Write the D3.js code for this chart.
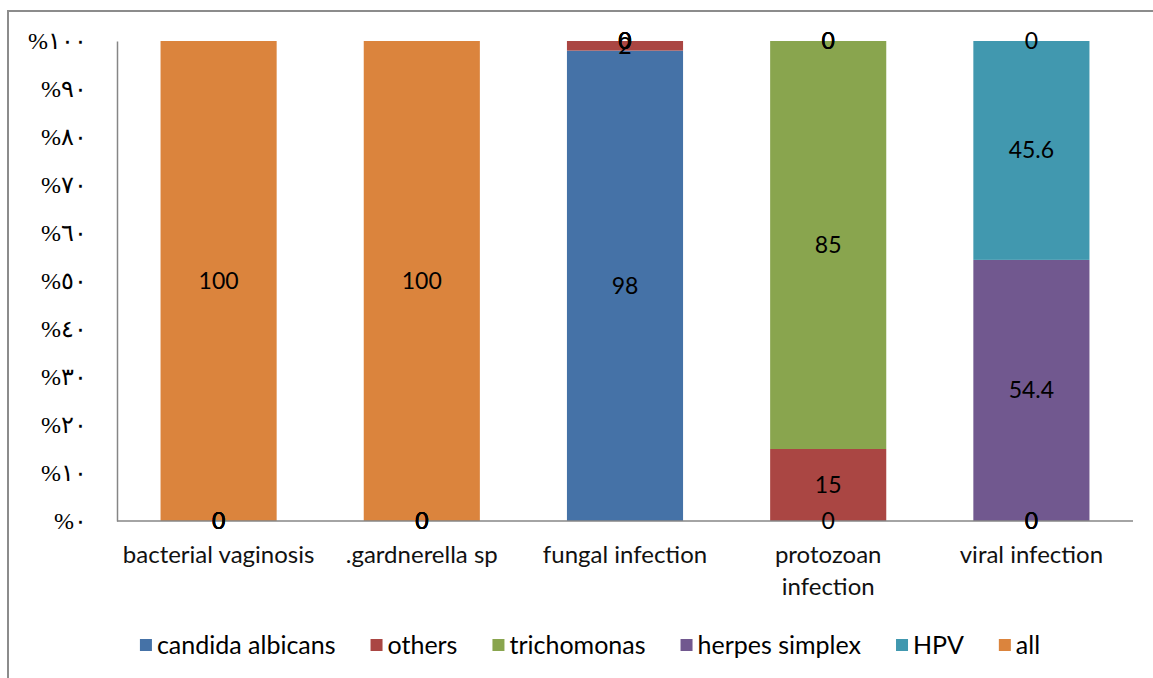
<!DOCTYPE html>
<html>
<head>
<meta charset="utf-8">
<script src="https://cdn.jsdelivr.net/npm/d3@7"></script>
<style>
  body { margin: 0; background: #fff; }
  svg { display: block; }
</style>
</head>
<body>
<div id="chart-area"></div>
<script>
// chart data
var categories = ["bacterial vaginosis", ".gardnerella sp", "fungal infection", "protozoan\ninfection", "viral infection"];
var seriesNames = ["candida albicans", "others", "trichomonas", "herpes simplex", "HPV", "all"];
var candida = [0, 0, 98, 0, 0];
var others = [0, 0, 2, 15, 0];
var trichomonas = [0, 0, 0, 85, 0];
var herpes = [0, 0, 0, 0, 54.4];
var hpv = [0, 0, 0, 0, 45.6];
var all = [100, 100, 0, 0, 0];
var yTicks = [0, 10, 20, 30, 40, 50, 60, 70, 80, 90, 100];

var colors = ["#4572A7", "#AA4643", "#89A54E", "#71588F", "#4198AF", "#DB843D"];
var seriesValues = [candida, others, trichomonas, herpes, hpv, all];

var W = 1153, H = 678;
var margin = { left: 117, right: 20, top: 41, bottom: 157 };
var width = W - margin.left - margin.right,
    height = H - margin.top - margin.bottom;
var font = "Lato, 'Open Sans', sans-serif";

var svg = d3.select("#chart-area")
    .append("svg")
    .attr("width", W)
    .attr("height", H);

// outer frame (only left & top visible)
svg.append("path")
    .attr("d", "M8," + H + "V11H" + W)
    .attr("fill", "none")
    .attr("stroke", "#8c8c8c")
    .attr("stroke-width", 2);

var g = svg.append("g")
    .attr("transform", "translate(" + margin.left + "," + margin.top + ")");

// build table rows for stacking
var rows = categories.map(function (c, i) {
    var r = { category: c };
    seriesNames.forEach(function (s, j) { r[s] = seriesValues[j][i]; });
    return r;
});

var stack = d3.stack().keys(seriesNames)(rows);

var x = d3.scaleBand()
    .domain(categories)
    .range([0, width])
    .paddingInner(0.75 / 1.75)
    .paddingOuter(0.375 / 1.75);

var y = d3.scaleLinear()
    .domain([0, 100])
    .range([height, 0]);

var arabic = "٠١٢٣٤٥٦٧٨٩";
function toArabic(n) {
    return String(n).replace(/[0-9]/g, function (d) { return arabic[+d]; });
}

// y axis
var yG = g.append("g")
    .call(d3.axisLeft(y).tickValues(yTicks).tickSize(0).tickSizeOuter(0)
        .tickPadding(30)
        .tickFormat(function (d) { return "%" + toArabic(d); }));
yG.select(".domain").attr("stroke", "#868686").attr("stroke-width", 1.5);
yG.selectAll("text")
    .attr("font-family", "'Liberation Serif', 'DejaVu Serif', serif")
    .attr("font-size", "24px")
    .attr("fill", "#000")
    .attr("direction", "ltr");

// bars
var layer = g.selectAll(".layer")
    .data(stack)
    .enter().append("g")
    .attr("class", "layer")
    .attr("fill", function (d, i) { return colors[i]; });

layer.selectAll("rect")
    .data(function (d) { return d; })
    .enter().append("rect")
    .attr("x", function (d) { return x(d.data.category); })
    .attr("y", function (d) { return y(d[1]); })
    .attr("width", x.bandwidth())
    .attr("height", function (d) { return y(d[0]) - y(d[1]); });

// x axis line
g.append("line")
    .attr("x1", 0).attr("x2", width)
    .attr("y1", height).attr("y2", height)
    .attr("stroke", "#868686")
    .attr("stroke-width", 1.5);

// data labels (drawn above all bars)
var labelG = g.append("g");
stack.forEach(function (s) {
    labelG.selectAll(null)
        .data(s)
        .enter().append("text")
        .attr("x", function (d) { return x(d.data.category) + x.bandwidth() / 2; })
        .attr("y", function (d) { return y((d[0] + d[1]) / 2); })
        .attr("dy", "0.35em")
        .attr("text-anchor", "middle")
        .attr("font-family", font)
        .attr("font-size", "23px")
        .attr("fill", "#000")
        .text(function (d) { return d.data[s.key]; });
});

// category labels
var catG = g.append("g");
categories.forEach(function (c) {
    var t = catG.append("text")
        .attr("x", x(c) + x.bandwidth() / 2)
        .attr("y", height + 42)
        .attr("text-anchor", "middle")
        .attr("font-family", font)
        .attr("font-size", "24px")
        .attr("fill", "#111");
    c.split("\n").forEach(function (line, i) {
        t.append("tspan")
            .attr("x", x(c) + x.bandwidth() / 2)
            .attr("dy", i === 0 ? 0 : 32)
            .text(line);
    });
});

// legend
var legend = svg.append("g");
var lx = 0, gap = 35;
seriesNames.forEach(function (s, i) {
    var item = legend.append("g").attr("transform", "translate(" + lx + ",0)");
    item.append("rect")
        .attr("x", 0).attr("y", -6)
        .attr("width", 12).attr("height", 12)
        .attr("fill", colors[i]);
    var t = item.append("text")
        .attr("x", 17)
        .attr("dy", "0.35em")
        .attr("font-family", font)
        .attr("font-size", "25px")
        .attr("fill", "#000")
        .text(s);
    lx += 17 + t.node().getComputedTextLength() + gap;
});
lx -= gap;
legend.attr("transform", "translate(" + (590 - lx / 2) + ",645)");
</script>
</body>
</html>
